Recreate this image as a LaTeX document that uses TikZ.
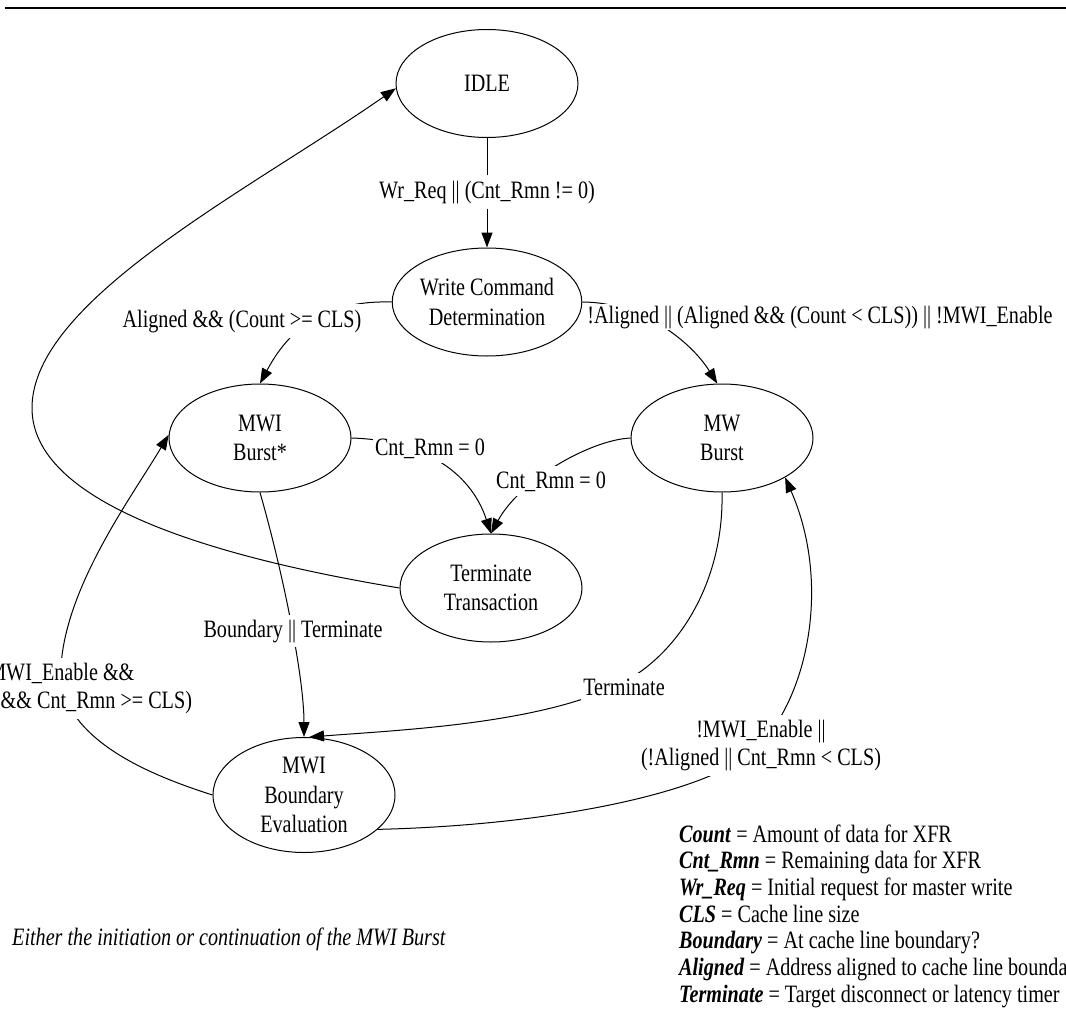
\documentclass[tikz,border=0pt]{standalone}
\usepackage{fontspec}
\setmainfont{Liberation Serif}[FakeStretch=0.806]
\usetikzlibrary{shapes.geometric,arrows.meta}
\begin{document}
\begin{tikzpicture}[x=1pt,y=-1pt,
  every node/.style={font=\fontsize{25}{29.5}\selectfont, inner sep=0pt},
  state/.style={draw, ellipse, line width=1pt, minimum width=182pt, minimum height=108pt, align=center},
  lbl/.style={fill=white, inner xsep=2pt, inner ysep=5pt, align=center, font=\fontsize{25}{28.5}\selectfont},
  edge/.style={line width=1pt, -{Triangle[length=15pt,width=11pt]}},
  leg/.style={anchor=base west}
]
\useasboundingbox (0,0) rectangle (1066,1009);
\fill[white] (0,0) rectangle (1066,1009);
\draw[line width=1.5pt] (5,8) -- (1066,8);

% states
\node[state] (idle) at (487,83.5) {IDLE};
\node[state] (wcd) at (487,302) {Write Command\\Determination};
\node[state] (mwi) at (260,438) {MWI\\Burst*};
\node[state] (mw) at (722,438) {MW\\Burst};
\node[state] (tt) at (491,588) {Terminate\\Transaction};
\node[state, minimum height=115pt] (mbe) at (304,795) {MWI\\Boundary\\Evaluation};

% connectors
\draw[edge] (idle.south) -- (wcd.north);
\draw[edge] (wcd.west) .. controls (320,300) and (287,333) .. (mwi.north);
\draw[edge] (wcd.east) .. controls (640,302) and (690,340) .. (mw.95);
\draw[edge] (mwi.east) .. controls (420,440) and (470,470) .. (tt.north);
\draw[edge] (mw.west) .. controls (590,440) and (520,480) .. (tt.north);
\draw[edge] (tt.west) .. controls (200,555) and (32,500) .. (32,408) .. controls (32,300) and (250,190) .. (idle.183);
\draw[edge] (mwi.south) .. controls (285,580) and (304,680) .. (mbe.north);
\draw[edge] (mw.south) .. controls (724,580) and (680,654) .. (620,684) .. controls (540,724) and (400,730) .. (mbe.85);
\draw[edge] (mbe.west) .. controls (140,772) and (75,740) .. (61,686) .. controls (55,600) and (130,500) .. (mwi.178);
\draw[edge] (mbe.-25) .. controls (560,825) and (720,790) .. (761,744) .. controls (810,690) and (830,580) .. (mw.-32);

% labels
\node[lbl, anchor=base, inner ysep=6pt] (l1) at (487,198) {Wr\_Req || (Cnt\_Rmn != 0)};
\node[lbl, anchor=base, inner ysep=6pt] (l2) at (242,327) {Aligned \&\& (Count >= CLS)};
\node[lbl, anchor=base, inner ysep=2pt] (l3) at (820,323) {!Aligned || (Aligned \&\& (Count < CLS)) || !MWI\_Enable};
\node[lbl, anchor=base] (l4) at (430,455) {Cnt\_Rmn = 0};
\node[lbl, anchor=base] (l5) at (551,488) {Cnt\_Rmn = 0};
\node[lbl, anchor=base] (l6) at (293,637) {Boundary || Terminate};
\node[lbl, anchor=base] (l7) at (624,695) {Terminate};
\node[lbl] (l8) at (761,745.4) {!MWI\_Enable ||\\(!Aligned || Cnt\_Rmn < CLS)};
\node[lbl] (l9) at (58,688.4) {!MWI\_Enable \&\&\\(Aligned \&\& Cnt\_Rmn >= CLS)};

% note and legend
\node[leg] (note) at (12,945) {\textit{Either the initiation or continuation of the MWI Burst}};
\node[leg] (g1) at (679,842) {\textbf{\textit{Count}} = Amount of data for XFR};
\node[leg] (g2) at (679,868.7) {\textbf{\textit{Cnt\_Rmn}} = Remaining data for XFR};
\node[leg] (g3) at (679,895.4) {\textbf{\textit{Wr\_Req}} = Initial request for master write};
\node[leg] (g4) at (679,922.1) {\textbf{\textit{CLS}} = Cache line size};
\node[leg] (g5) at (679,948.8) {\textbf{\textit{Boundary}} = At cache line boundary?};
\node[leg] (g6) at (679,975.5) {\textbf{\textit{Aligned}} = Address aligned to cache line boundary};
\node[leg] (g7) at (679,1002.2) {\textbf{\textit{Terminate}} = Target disconnect or latency timer};
\end{tikzpicture}
\end{document}
